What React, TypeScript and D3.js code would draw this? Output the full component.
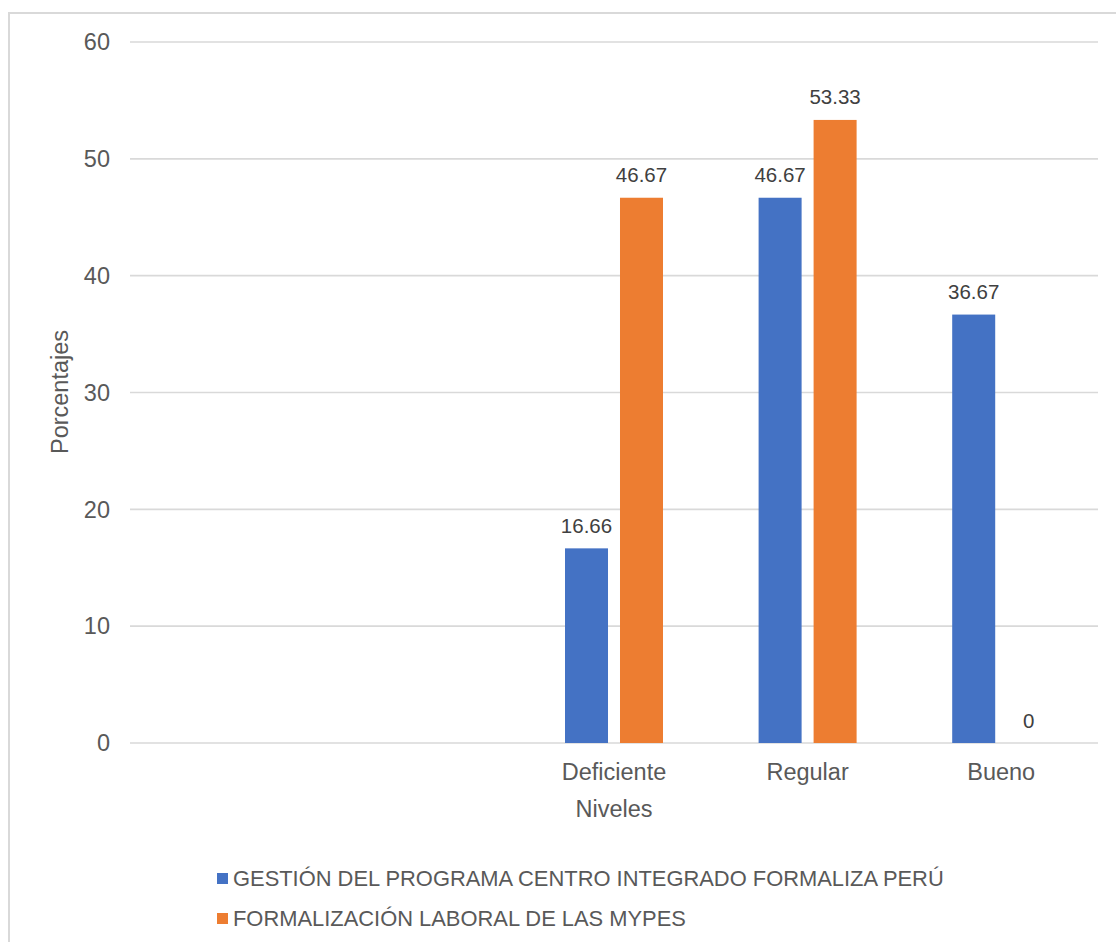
import React from 'react';
import * as d3 from 'd3';

// categorias (las dos primeras vacias, como en el grafico original)
const categories = ['', ' ', 'Deficiente', 'Regular', 'Bueno'];
const seriesNames = [
    'GESTIÓN DEL PROGRAMA CENTRO INTEGRADO FORMALIZA PERÚ',
    'FORMALIZACIÓN LABORAL DE LAS MYPES',
];
const gestionValues: Array<number | null> = [null, null, 16.66, 46.67, 36.67];
const formalizacionValues: Array<number | null> = [null, null, 46.67, 53.33, 0];
const yTicks = [0, 10, 20, 30, 40, 50, 60];
const colors = ['#4472C4', '#ED7D31'];

const W = 1116;
const H = 942;
const font = '"Liberation Sans", Arial, sans-serif';
const textColor = '#595959';
const gridColor = '#d9d9d9';

function App() {
    const plot = {left: 130, right: 1098, top: 42, bottom: 743};

    const x0 = d3.scaleBand<string>()
        .domain(categories)
        .range([plot.left, plot.right]);
    const y = d3.scaleLinear()
        .domain([0, 60])
        .range([plot.bottom, plot.top]);

    const groupWidth = 98;
    const x1 = d3.scaleBand<string>()
        .domain(seriesNames)
        .range([0, groupWidth])
        .paddingInner(0.218);

    const allSeries = [gestionValues, formalizacionValues];

    return (
        <svg width={W} height={H} style={{position: 'absolute', left: 0, top: 0}}
             fontFamily={font}>
            <rect x={0} y={0} width={W} height={H} fill="#ffffff"/>
            <rect x={9} y={13} width={W + 20} height={H + 20} fill="none" stroke={gridColor} strokeWidth={2}/>

            {/* grid */}
            {yTicks.map(t => (
                <line key={'g' + t} x1={plot.left} x2={plot.right} y1={y(t)} y2={y(t)}
                      stroke={gridColor} strokeWidth={1.6}/>
            ))}
            {yTicks.map(t => (
                <text key={'t' + t} x={110} y={y(t)} dy="0.35em" textAnchor="end"
                      fontSize={23.5} fill={textColor}>{t}</text>
            ))}

            {/* bars */}
            {categories.map((c, ci) => {
                const gx = (x0(c) ?? 0) + x0.bandwidth() / 2 - groupWidth / 2;
                return allSeries.map((vals, si) => {
                    const v = vals[ci];
                    if (v === null) return null;
                    const bx = gx + (x1(seriesNames[si]) ?? 0);
                    return (
                        <g key={c + si}>
                            <rect x={bx} y={y(v)} width={x1.bandwidth()} height={y(0) - y(v)}
                                  fill={colors[si]}/>
                            <text x={bx + x1.bandwidth() / 2} y={y(v) - 15.5} textAnchor="middle"
                                  fontSize={20.5} fill="#404040">{v}</text>
                        </g>
                    );
                });
            })}

            {/* category labels */}
            {categories.map(c => (
                <text key={'c' + c} x={(x0(c) ?? 0) + x0.bandwidth() / 2} y={780} textAnchor="middle"
                      fontSize={23.5} fill={textColor}>{c.trim()}</text>
            ))}

            {/* axis titles */}
            <text x={(plot.left + plot.right) / 2} y={817} textAnchor="middle"
                  fontSize={23.5} fill={textColor}>Niveles</text>
            <text transform={`translate(${68},${392}) rotate(-90)`} textAnchor="middle"
                  fontSize={23.5} fill={textColor}>Porcentajes</text>

            {/* legend */}
            {seriesNames.map((s, i) => (
                <g key={'l' + i} transform={`translate(217,${873 + i * 40})`}>
                    <rect x={0} y={0} width={11} height={11} fill={colors[i]}/>
                    <text x={16} y={12.5} fontSize={21.9} fill={textColor}>{s}</text>
                </g>
            ))}
        </svg>
    );
}

export default App;
